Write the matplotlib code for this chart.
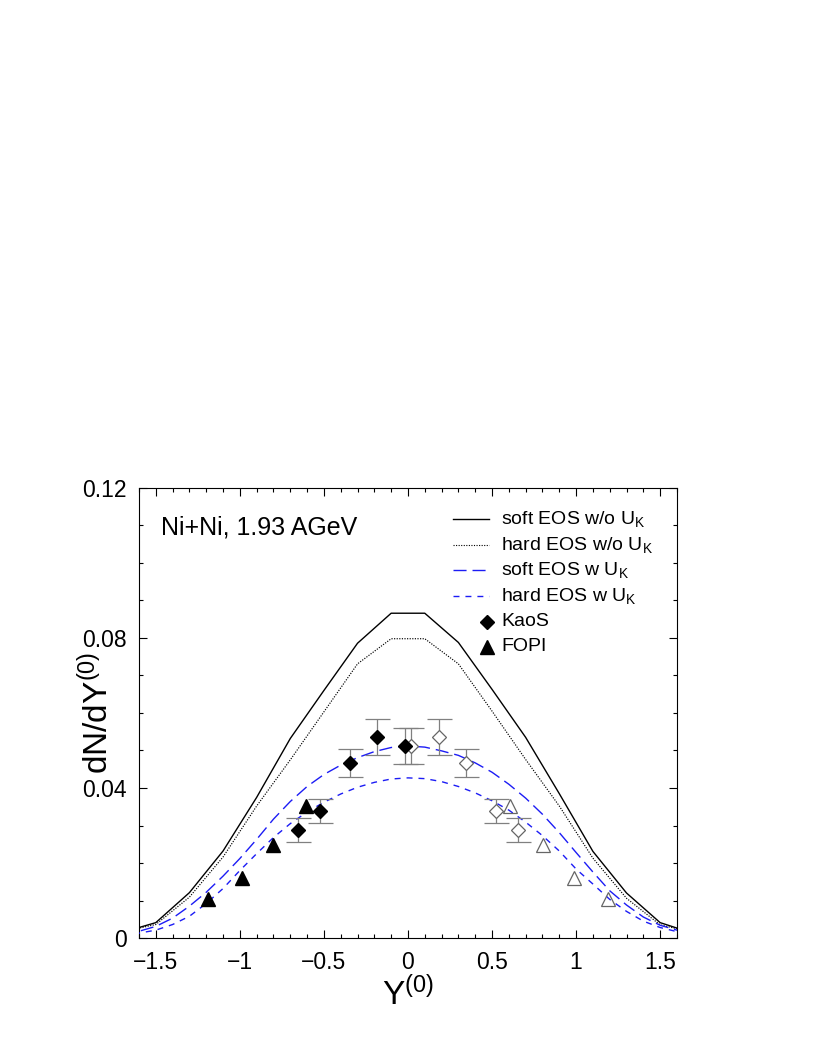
#!/usr/bin/env python3
"""
K+ rapidity distribution for Ni+Ni at 1.93 AGeV: transport curves
(soft / hard EOS, with and without kaon potential) against KaoS and FOPI data.
Open symbols are the data reflected at midrapidity.
"""

import matplotlib

matplotlib.use("Agg")
import matplotlib.pyplot as plt
from matplotlib.ticker import FixedLocator, MultipleLocator, FuncFormatter


# --- model curves -----------------------------------------------------------
# calculations without kaon potential (histogram centres, step 0.2)
NO_UK_X = [-1.7, -1.5, -1.3, -1.1, -0.9, -0.7, -0.5, -0.3, -0.1,
           0.1, 0.3, 0.5, 0.7, 0.9, 1.1, 1.3, 1.5, 1.7]
SOFT_NO_UK = [0.0015, 0.0041, 0.0121, 0.0232, 0.0375, 0.0532, 0.0660, 0.0786, 0.0866,
              0.0866, 0.0788, 0.0663, 0.0535, 0.0385, 0.0231, 0.0120, 0.0041, 0.0012]
HARD_NO_UK = [0.0017, 0.0036, 0.0109, 0.0216, 0.0352, 0.0475, 0.0603, 0.0731, 0.0798,
              0.0798, 0.0731, 0.0605, 0.0476, 0.0352, 0.0213, 0.0106, 0.0035, 0.0015]

# calculations with kaon potential (smooth, step 0.1)
W_UK_X = [-1.7, -1.6, -1.5, -1.4, -1.3, -1.2, -1.1, -1.0, -0.9, -0.8, -0.7, -0.6,
          -0.5, -0.4, -0.3, -0.2, -0.1, 0.0, 0.1, 0.2, 0.3, 0.4, 0.5, 0.6,
          0.7, 0.8, 0.9, 1.0, 1.1, 1.2, 1.3, 1.4, 1.5, 1.6, 1.7]
SOFT_W_UK = [0.0010, 0.0018, 0.0031, 0.0053, 0.0085, 0.0122, 0.0165, 0.0212, 0.0263,
             0.0317, 0.0364, 0.0404, 0.0436, 0.0461, 0.0481, 0.0497, 0.0508, 0.0512,
             0.0509, 0.0499, 0.0487, 0.0467, 0.0442, 0.0410, 0.0373, 0.0330, 0.0281,
             0.0228, 0.0176, 0.0126, 0.0088, 0.0056, 0.0034, 0.0021, 0.0012]
HARD_W_UK = [0.0008, 0.0013, 0.0021, 0.0036, 0.0058, 0.0092, 0.0132, 0.0180, 0.0225,
             0.0268, 0.0305, 0.0336, 0.0362, 0.0384, 0.0402, 0.0415, 0.0424, 0.0427,
             0.0425, 0.0417, 0.0404, 0.0387, 0.0366, 0.0341, 0.0309, 0.0273, 0.0232,
             0.0184, 0.0144, 0.0103, 0.0071, 0.0045, 0.0028, 0.0017, 0.0010]

# --- data ---------------------------------------------------------------------
KAOS_X = [-0.653, -0.526, -0.345, -0.184, -0.020]
KAOS_Y = [0.0289, 0.0339, 0.0467, 0.0537, 0.0512]
KAOS_ERR = [0.0032, 0.0032, 0.0038, 0.0048, 0.0048]
KAOS_REFL_X = [0.653, 0.526, 0.347, 0.184, 0.020]

FOPI_X = [-1.188, -0.990, -0.804, -0.605]
FOPI_Y = [0.0105, 0.0159, 0.0249, 0.0353]
FOPI_REFL_X = [1.188, 0.990, 0.804, 0.608]

X_TICKS = [-1.5, -1.0, -0.5, 0.0, 0.5, 1.0, 1.5]
Y_TICKS = [0.0, 0.04, 0.08, 0.12]

BLUE = "#1c1cf5"
GRAY = "#808080"
FONT = "Liberation Sans"


def fmt_tick(value, _pos):
    if abs(value) < 1e-9:
        return "0"
    text = f"{value:g}"
    return text.replace("-", "\u2212")


def fmt_ytick(value, _pos):
    if abs(value) < 1e-9:
        return "0"
    return f"{value:.2f}"


def draw_legend(ax):
    # hand-placed legend, in axes fraction
    x0, x1, xt = 0.584, 0.651, 0.673
    rows = [
        ("soft EOS w/o U$_{\\mathregular{K}}$", dict(color="black", lw=1.0), 0.930),
        ("hard EOS w/o U$_{\\mathregular{K}}$", dict(color="black", lw=0.8, dashes=(1, 1.3)), 0.873),
        ("soft EOS w U$_{\\mathregular{K}}$", dict(color=BLUE, lw=1.0, dashes=(9.4, 4.3)), 0.818),
        ("hard EOS w U$_{\\mathregular{K}}$", dict(color=BLUE, lw=1.0, dashes=(4.3, 4.3)), 0.760),
    ]
    for label, style, y in rows:
        ax.plot([x0, x1], [y, y], transform=ax.transAxes, clip_on=False, **style)
        ax.text(xt, y, label, transform=ax.transAxes, fontsize=14, va="center", ha="left")

    ax.plot([x1 - 0.005], [0.703], transform=ax.transAxes, marker="D", ms=7.5,
            color="black", clip_on=False)
    ax.text(xt, 0.703, "KaoS", transform=ax.transAxes, fontsize=14, va="center", ha="left")
    ax.plot([x1 - 0.005], [0.647], transform=ax.transAxes, marker="^", ms=10.5,
            color="black", clip_on=False)
    ax.text(xt, 0.647, "FOPI", transform=ax.transAxes, fontsize=14, va="center", ha="left")


def main():
    plt.rcParams["font.family"] = [FONT, "DejaVu Sans"]
    plt.rcParams["mathtext.fontset"] = "custom"
    plt.rcParams["mathtext.rm"] = FONT
    plt.rcParams["mathtext.it"] = FONT + ":italic"
    plt.rcParams["mathtext.bf"] = FONT + ":bold"

    fig = plt.figure(figsize=(8.17, 10.58), dpi=100)
    ax = fig.add_axes([0.1701, 0.1134, 0.8286 - 0.1701, 0.5388 - 0.1134])

    # model curves
    ax.plot(NO_UK_X, SOFT_NO_UK, color="black", lw=1.0, zorder=3)
    ax.plot(NO_UK_X, HARD_NO_UK, color="black", lw=0.85, dashes=(1, 1.2), zorder=3)
    ax.plot(W_UK_X, SOFT_W_UK, color=BLUE, lw=1.0, dashes=(9.4, 4.3), zorder=3)
    ax.plot(W_UK_X, HARD_W_UK, color=BLUE, lw=1.0, dashes=(4.3, 4.3), zorder=3)

    # reflected data (open symbols)
    ax.errorbar(KAOS_REFL_X, KAOS_Y, yerr=KAOS_ERR, fmt="none", ecolor=GRAY,
                elinewidth=0.9, capsize=9, capthick=0.9, zorder=4)
    ax.plot(KAOS_REFL_X, KAOS_Y, ls="none", marker="D", ms=7.5, mfc="white",
            mec="#666666", mew=0.9, zorder=5)
    ax.plot(FOPI_REFL_X, FOPI_Y, ls="none", marker="^", ms=10.5, mfc="none",
            mec="#666666", mew=0.9, zorder=5)

    # measured data (filled symbols)
    ax.errorbar(KAOS_X, KAOS_Y, yerr=KAOS_ERR, fmt="none", ecolor=GRAY,
                elinewidth=0.9, capsize=9, capthick=0.9, zorder=4)
    ax.plot(KAOS_X, KAOS_Y, ls="none", marker="D", ms=7.5, color="black", zorder=6)
    ax.plot(FOPI_X, FOPI_Y, ls="none", marker="^", ms=10.5, color="black", zorder=6)

    ax.set_xlim(-1.6, 1.6)
    ax.set_ylim(0.0, 0.12)
    ax.xaxis.set_major_locator(FixedLocator(X_TICKS))
    ax.xaxis.set_minor_locator(MultipleLocator(0.1))
    ax.yaxis.set_major_locator(FixedLocator(Y_TICKS))
    ax.yaxis.set_minor_locator(MultipleLocator(0.01))
    ax.xaxis.set_major_formatter(FuncFormatter(fmt_tick))
    ax.yaxis.set_major_formatter(FuncFormatter(fmt_ytick))

    ax.tick_params(which="both", direction="in", top=True, right=True, width=0.8)
    ax.tick_params(which="major", length=6, labelsize=16.5)
    ax.tick_params(which="minor", length=3)
    ax.tick_params(axis="x", which="major", pad=9)
    ax.tick_params(axis="y", which="major", pad=9)
    for spine in ax.spines.values():
        spine.set_linewidth(0.8)

    ax.set_xlabel("Y$^{\\mathregular{(0)}}$", fontsize=24, labelpad=2)
    ax.set_ylabel("dN/dY$^{\\mathregular{(0)}}$", fontsize=24)
    # the y label sits between the tick labels, close to the axis
    ax.yaxis.set_label_coords(-0.044, 0.5)

    ax.text(0.041, 0.912, "Ni+Ni, 1.93 AGeV", transform=ax.transAxes,
            fontsize=18, va="center", ha="left")
    draw_legend(ax)

    fig.savefig("out.png", dpi=100)


if __name__ == "__main__":
    main()
